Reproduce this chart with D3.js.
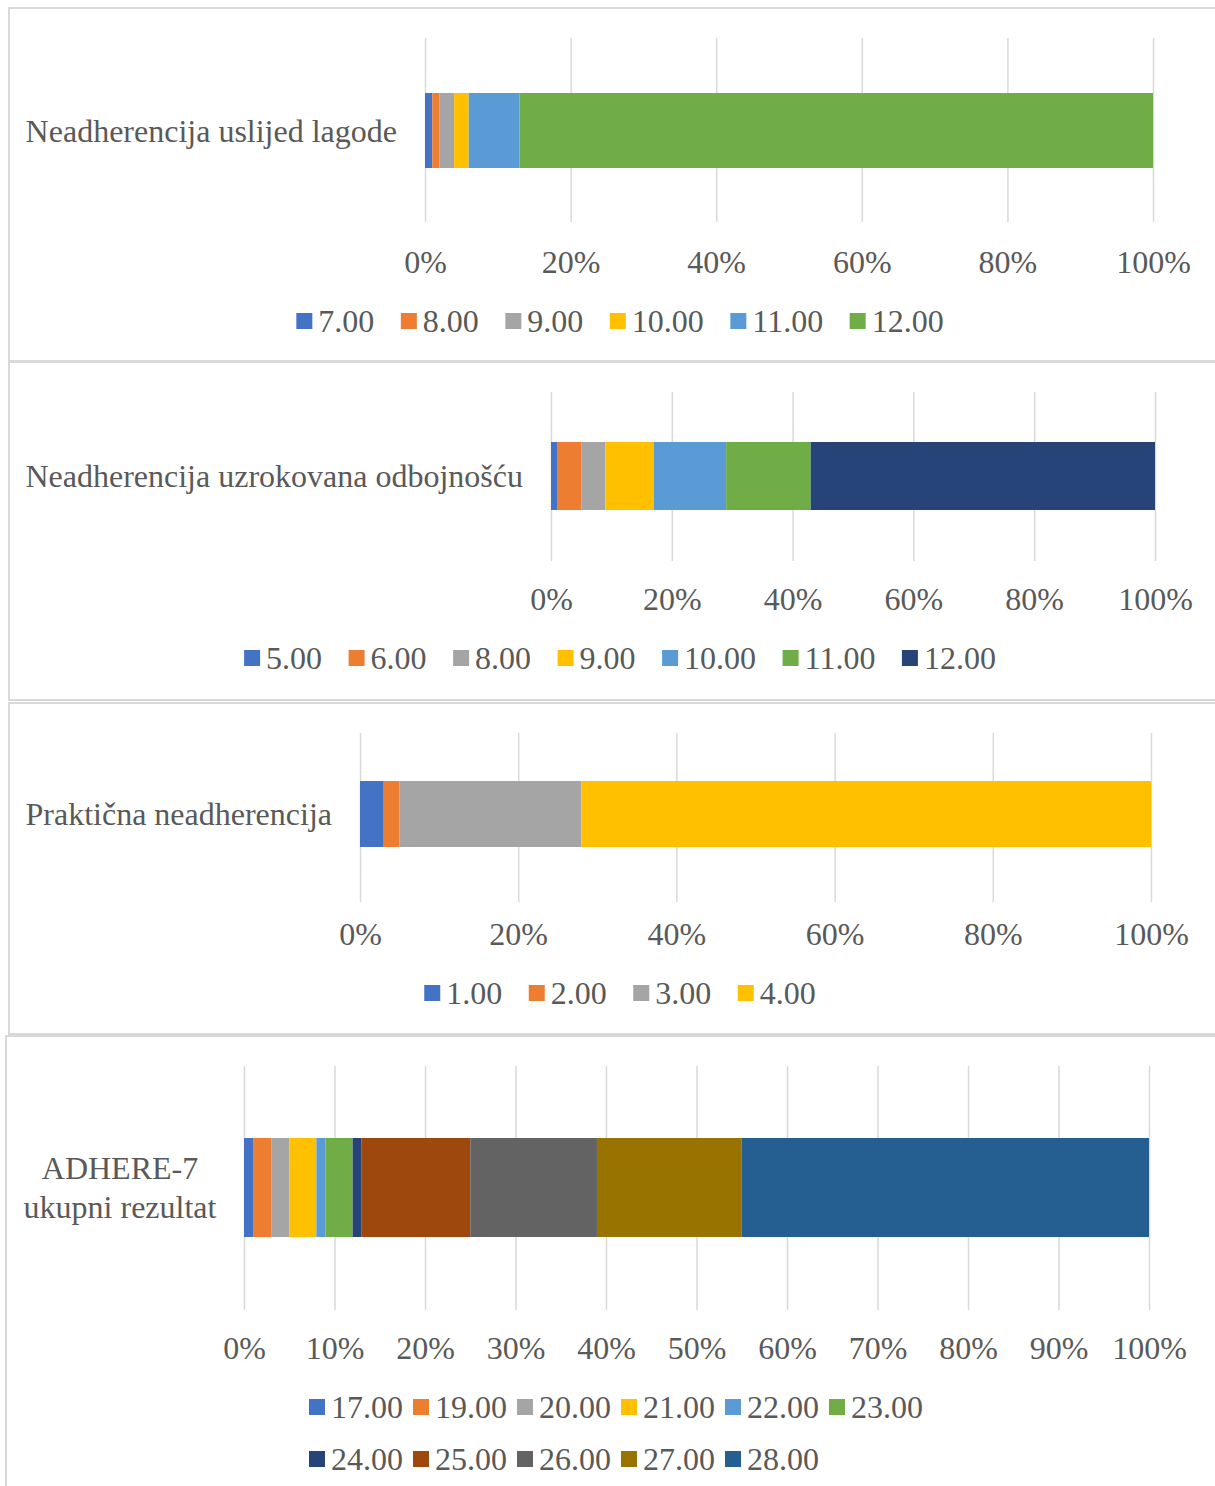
<!DOCTYPE html>
<html>
<head>
<meta charset="utf-8">
<script src="https://cdn.jsdelivr.net/npm/d3@7"></script>
<style>
  html, body { margin: 0; padding: 0; background: #fff; }
  svg text { font-family: "Liberation Serif", "Times New Roman", serif; fill: #595959; }
</style>
</head>
<body>
<svg id="chart" width="1215" height="1486"></svg>
<script>
// Office palette used by all four charts
var officeColors = ['#4472C4', '#ED7D31', '#A5A5A5', '#FFC000', '#5B9BD5', '#70AD47',
                    '#264478', '#9E480E', '#636363', '#997300', '#255E91'];

// chart 1
var lagodeCategory = ['Neadherencija uslijed lagode'];
var lagodeKeys = ['7.00', '8.00', '9.00', '10.00', '11.00', '12.00'];
var lagodeValues = [1, 1, 2, 2, 7, 87];

// chart 2
var odbojnostCategory = ['Neadherencija uzrokovana odbojnošću'];
var odbojnostKeys = ['5.00', '6.00', '8.00', '9.00', '10.00', '11.00', '12.00'];
var odbojnostValues = [1, 4, 4, 8, 12, 14, 57];

// chart 3
var prakticnaCategory = ['Praktična neadherencija'];
var prakticnaKeys = ['1.00', '2.00', '3.00', '4.00'];
var prakticnaValues = [3, 2, 23, 72];

// chart 4
var ukupnoCategory = ['ADHERE-7', 'ukupni rezultat'];
var ukupnoKeys = ['17.00', '19.00', '20.00', '21.00', '22.00', '23.00',
                  '24.00', '25.00', '26.00', '27.00', '28.00'];
var ukupnoValues = [1, 2, 2, 3, 1, 3, 1, 12, 14, 16, 45];

var ticks20 = [0, 20, 40, 60, 80, 100];
var ticks10 = [0, 10, 20, 30, 40, 50, 60, 70, 80, 90, 100];

var svg = d3.select('#chart');
var FONT = 32;

// layout of each panel (pixels), kept apart from the data
var panels = [
  { box: [9, 8, 1240, 353], x: [425, 1153], grid: [38, 222], bar: [93, 168], tickY: 262,
    legendY: [321], labelMode: 'right',
    cat: lagodeCategory, keys: lagodeKeys, values: lagodeValues, ticks: ticks20, legend: 'flow' },
  { box: [9, 362, 1240, 338], x: [551, 1155], grid: [392, 561], bar: [442, 510], tickY: 599,
    legendY: [658], labelMode: 'right',
    cat: odbojnostCategory, keys: odbojnostKeys, values: odbojnostValues, ticks: ticks20, legend: 'flow',
    colors: ['#4472C4', '#ED7D31', '#A5A5A5', '#FFC000', '#5B9BD5', '#70AD47', '#264478'] },
  { box: [9, 703, 1240, 331], x: [360, 1151], grid: [733, 902], bar: [781, 847], tickY: 934,
    legendY: [993], labelMode: 'right',
    cat: prakticnaCategory, keys: prakticnaKeys, values: prakticnaValues, ticks: ticks20, legend: 'flow' },
  { box: [6, 1036, 1240, 470], x: [244, 1149], grid: [1066, 1310], bar: [1138, 1237], tickY: 1348,
    legendY: [1407, 1459], labelMode: 'center',
    cat: ukupnoCategory, keys: ukupnoKeys, values: ukupnoValues, ticks: ticks10, legend: 'grid' }
];

panels.forEach(drawPanel);

function drawPanel(p) {
  var g = svg.append('g');

  g.append('rect')
    .attr('x', p.box[0]).attr('y', p.box[1])
    .attr('width', p.box[2]).attr('height', p.box[3])
    .attr('fill', '#fff')
    .attr('stroke', '#d9d9d9')
    .attr('stroke-width', 2);

  var x = d3.scaleLinear().domain([0, 100]).range(p.x);
  var colors = p.colors || officeColors;
  var color = d3.scaleOrdinal().domain(p.keys).range(colors);

  // gridlines + tick labels from the axis generator
  var axis = d3.axisBottom(x)
    .tickValues(p.ticks)
    .tickSize(-(p.grid[1] - p.grid[0]))
    .tickFormat(function (d) { return d + '%'; });

  var ax = g.append('g')
    .attr('transform', 'translate(0,' + p.grid[1] + ')')
    .call(axis);
  ax.select('.domain').remove();
  ax.selectAll('.tick line').attr('stroke', '#d9d9d9').attr('stroke-width', 1.5);
  ax.selectAll('.tick text')
    .attr('y', p.tickY - p.grid[1])
    .attr('dy', '0.35em')
    .style('font-size', FONT + 'px')
    .style('font-family', '"Liberation Serif", "Times New Roman", serif')
    .attr('fill', '#595959');

  // stacked bar, normalised to 100%
  var total = d3.sum(p.values);
  var row = {};
  p.keys.forEach(function (k, i) { row[k] = p.values[i] / total * 100; });
  var series = d3.stack().keys(p.keys)([row]);

  g.selectAll('rect.seg')
    .data(series)
    .enter().append('rect')
    .attr('class', 'seg')
    .attr('x', function (s) { return x(s[0][0]); })
    .attr('width', function (s) { return x(s[0][1]) - x(s[0][0]); })
    .attr('y', p.bar[0])
    .attr('height', p.bar[1] - p.bar[0])
    .attr('fill', function (s) { return color(s.key); });

  // category label
  var midY = (p.bar[0] + p.bar[1]) / 2;
  if (p.labelMode === 'right') {
    g.append('text')
      .attr('x', p.x[0] - 28)
      .attr('y', midY)
      .attr('dy', '0.35em')
      .attr('text-anchor', 'end')
      .style('font-size', FONT + 'px')
      .text(p.cat[0]);
  } else {
    var lh = 39;
    g.selectAll('text.cat')
      .data(p.cat)
      .enter().append('text')
      .attr('class', 'cat')
      .attr('x', 120)
      .attr('y', function (d, i) { return midY - lh / 2 + i * lh; })
      .attr('dy', '0.35em')
      .attr('text-anchor', 'middle')
      .style('font-size', FONT + 'px')
      .text(function (d) { return d; });
  }

  drawLegend(g, p, color);
}

function drawLegend(g, p, color) {
  var items = g.selectAll('g.leg')
    .data(p.keys)
    .enter().append('g')
    .attr('class', 'leg');

  items.append('rect')
    .attr('width', 16).attr('height', 16)
    .attr('y', -8)
    .attr('fill', function (d) { return color(d); });

  items.append('text')
    .attr('x', 22)
    .attr('dy', '0.35em')
    .style('font-size', FONT + 'px')
    .text(function (d) { return d; });

  var widths = [];
  items.each(function () {
    widths.push(22 + d3.select(this).select('text').node().getComputedTextLength());
  });

  if (p.legend === 'flow') {
    var gap = 26.5;
    var total = d3.sum(widths) + gap * (widths.length - 1);
    var cx = 620 - total / 2;
    var pos = [];
    widths.forEach(function (w) { pos.push(cx); cx += w + gap; });
    items.attr('transform', function (d, i) {
      return 'translate(' + pos[i] + ',' + p.legendY[0] + ')';
    });
  } else {
    var cols = 6, colW = 104;
    var span = (cols - 1) * colW + d3.max(widths);
    var left = 616 - span / 2;
    items.attr('transform', function (d, i) {
      var c = i % cols, r = Math.floor(i / cols);
      return 'translate(' + (left + c * colW) + ',' + p.legendY[r] + ')';
    });
  }
}
</script>
</body>
</html>
